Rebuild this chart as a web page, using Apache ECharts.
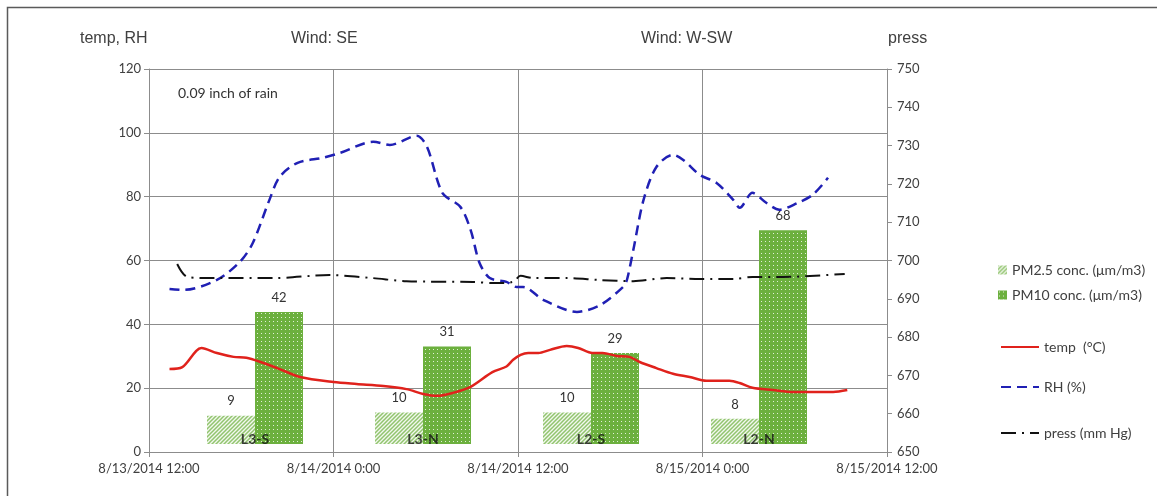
<!DOCTYPE html>
<html>
<head>
<meta charset="utf-8">
<script src="https://cdn.jsdelivr.net/npm/echarts@6/dist/echarts.min.js"></script>
<style>
  html, body { margin: 0; padding: 0; background: #fff; }
  #chart { width: 1157px; height: 496px; }
</style>
</head>
<body>
<div id="chart"></div>
<script>
// sampling sites and particulate matter concentrations
const siteNames = ['L3-S', 'L3-N', 'L2-S', 'L2-N'];
const pm25 = [9, 10, 10, 8];
const pm10 = [42, 31, 29, 68];

// x ticks every 12 h, from 8/13/2014 12:00
const xStart = '2014-08-13T12:00';
const xTicksHours = [0, 12, 24, 36, 48];

// temperature (°C)
const temp = [
  ['2014-08-13T13:20', 26.0], ['2014-08-13T14:10', 26.6], ['2014-08-13T15:25', 32.6],
  ['2014-08-13T16:25', 31.0], ['2014-08-13T17:30', 29.8], ['2014-08-13T18:20', 29.5],
  ['2014-08-13T19:15', 28.2], ['2014-08-13T20:20', 26.3], ['2014-08-13T21:50', 23.5],
  ['2014-08-14T00:00', 21.9], ['2014-08-14T01:30', 21.3], ['2014-08-14T03:15', 20.7],
  ['2014-08-14T04:45', 19.7], ['2014-08-14T05:50', 18.2], ['2014-08-14T06:45', 17.6],
  ['2014-08-14T07:45', 18.5], ['2014-08-14T08:55', 20.4], ['2014-08-14T10:20', 25.0],
  ['2014-08-14T11:15', 26.8], ['2014-08-14T11:40', 28.8], ['2014-08-14T12:10', 30.4],
  ['2014-08-14T12:40', 31.0], ['2014-08-14T13:20', 31.0], ['2014-08-14T14:05', 32.0],
  ['2014-08-14T15:10', 33.2], ['2014-08-14T15:55', 32.6], ['2014-08-14T16:50', 31.0],
  ['2014-08-14T17:30', 31.0], ['2014-08-14T18:25', 30.1], ['2014-08-14T19:15', 29.8],
  ['2014-08-14T19:55', 28.2], ['2014-08-14T21:00', 26.3], ['2014-08-14T22:05', 24.5],
  ['2014-08-14T23:10', 23.5], ['2014-08-15T00:15', 22.3], ['2014-08-15T01:45', 22.3],
  ['2014-08-15T02:25', 21.6], ['2014-08-15T03:15', 20.1], ['2014-08-15T04:35', 19.4],
  ['2014-08-15T05:55', 18.8], ['2014-08-15T07:10', 18.8], ['2014-08-15T08:30', 18.8],
  ['2014-08-15T09:25', 19.4]
];

// relative humidity (%)
const rh = [
  ['2014-08-13T13:20', 51.1], ['2014-08-13T14:15', 50.8], ['2014-08-13T16:25', 53.9],
  ['2014-08-13T17:55', 59.6], ['2014-08-13T18:45', 65.5], ['2014-08-13T19:50', 79.0],
  ['2014-08-13T20:30', 86.2], ['2014-08-13T21:40', 90.6], ['2014-08-13T23:20', 92.2],
  ['2014-08-14T00:25', 93.7], ['2014-08-14T02:35', 97.2], ['2014-08-14T03:40', 96.2],
  ['2014-08-14T05:25', 99.1], ['2014-08-14T06:05', 95.6], ['2014-08-14T07:05', 81.2],
  ['2014-08-14T08:15', 76.8], ['2014-08-14T08:55', 69.6], ['2014-08-14T09:30', 59.2],
  ['2014-08-14T10:10', 54.5], ['2014-08-14T11:15', 53.3], ['2014-08-14T11:55', 51.7],
  ['2014-08-14T12:20', 51.7], ['2014-08-14T13:40', 47.6], ['2014-08-14T15:50', 43.9],
  ['2014-08-14T17:20', 46.0], ['2014-08-14T18:50', 51.7], ['2014-08-14T19:05', 53.9],
  ['2014-08-14T19:30', 63.3], ['2014-08-14T20:10', 79.0], ['2014-08-14T21:00', 89.3],
  ['2014-08-14T22:05', 93.1], ['2014-08-14T22:45', 91.5], ['2014-08-14T23:50', 86.8],
  ['2014-08-15T00:55', 84.3], ['2014-08-15T02:00', 79.0], ['2014-08-15T02:25', 76.5],
  ['2014-08-15T03:15', 81.2], ['2014-08-15T04:10', 78.0], ['2014-08-15T05:00', 75.9],
  ['2014-08-15T06:10', 78.0], ['2014-08-15T07:10', 80.6], ['2014-08-15T08:10', 85.9]
];

// pressure (mm Hg)
const press = [
  ['2014-08-13T13:50', 699.1], ['2014-08-13T14:30', 695.7], ['2014-08-13T16:10', 695.4],
  ['2014-08-13T20:05', 695.4], ['2014-08-13T23:45', 696.2], ['2014-08-14T02:35', 695.4],
  ['2014-08-14T04:45', 694.6], ['2014-08-14T09:05', 694.4], ['2014-08-14T10:25', 694.1],
  ['2014-08-14T11:40', 694.4], ['2014-08-14T12:10', 696.0], ['2014-08-14T13:00', 695.4],
  ['2014-08-14T15:10', 695.4], ['2014-08-14T17:20', 694.9], ['2014-08-14T19:30', 694.6],
  ['2014-08-14T21:40', 695.4], ['2014-08-14T23:50', 695.2], ['2014-08-15T02:00', 695.2],
  ['2014-08-15T03:15', 695.7], ['2014-08-15T05:15', 695.7], ['2014-08-15T09:15', 696.5]
];

const t0 = Date.parse(xStart);
function hrs(s) { return (Date.parse(s) - t0) / 3600000; }
function toXY(arr) { return arr.map(d => [hrs(d[0]), d[1]]); }
function fmtDate(h) {
  let d = new Date(t0 + h * 3600000);
  let mm = d.getMinutes() < 10 ? '0' + d.getMinutes() : d.getMinutes();
  return (d.getMonth() + 1) + '/' + d.getDate() + '/' + d.getFullYear() + ' ' + d.getHours() + ':' + mm;
}

// fill patterns for the bars
function dotPattern() {
  let c = document.createElement('canvas');
  c.width = 4; c.height = 4;
  let g = c.getContext('2d');
  g.fillStyle = '#6cb03e';
  g.fillRect(0, 0, 4, 4);
  g.fillStyle = 'rgba(255,255,255,0.8)';
  g.fillRect(1, 1, 1, 1);
  return c;
}
function hatchPattern() {
  let c = document.createElement('canvas');
  c.width = 4; c.height = 4;
  let g = c.getContext('2d');
  g.fillStyle = '#f2f8ee';
  g.fillRect(0, 0, 4, 4);
  g.strokeStyle = '#92c46f';
  g.lineWidth = 1.5;
  g.beginPath();
  g.moveTo(0, 4); g.lineTo(4, 0);
  g.moveTo(-1, 1); g.lineTo(1, -1);
  g.moveTo(3, 5); g.lineTo(5, 3);
  g.stroke();
  return c;
}

const font = 'Lato, "Noto Sans", sans-serif';
const arial = '"Liberation Sans", Arial, sans-serif';
const gridColor = '#8c8c8c';
const labelColor = '#404040';

function lineLegend(name, top) {
  return {
    data: [name], left: 995, top: top,
    itemWidth: 38, itemHeight: 14,
    itemStyle: { opacity: 0 },
    textStyle: { fontFamily: font, fontSize: 14, color: labelColor }
  };
}

function initChart() {
  let myChart = echarts.init(document.getElementById('chart'));

  let option = {
    animation: false,
    backgroundColor: '#fff',
    grid: [
      { left: 149, right: 270, top: 69, bottom: 44 },
      { left: 171, right: 314, top: 67, bottom: 52 }
    ],
    legend: [
      {
        data: ['PM2.5 conc. (μm/m3)', 'PM10 conc. (μm/m3)'],
        orient: 'vertical', left: 993, top: 258,
        icon: 'rect', itemWidth: 9, itemHeight: 9, itemGap: 11,
        textStyle: { fontFamily: font, fontSize: 14, color: labelColor }
      },
      lineLegend('temp  (°C)', 335),
      lineLegend('RH (%)', 375),
      lineLegend('press (mm Hg)', 421)
    ],
    xAxis: [
      {
        type: 'value', gridIndex: 0,
        min: xTicksHours[0], max: xTicksHours[xTicksHours.length - 1], interval: 12,
        axisLine: { lineStyle: { color: gridColor } },
        axisTick: { show: true, length: 5, lineStyle: { color: gridColor } },
        splitLine: { show: true, lineStyle: { color: gridColor } },
        axisLabel: {
          fontFamily: font, fontSize: 13, color: labelColor, margin: 10,
          showMinLabel: true, showMaxLabel: true,
          formatter: v => fmtDate(v)
        }
      },
      {
        type: 'category', gridIndex: 1, data: siteNames, show: false
      }
    ],
    yAxis: [
      {
        type: 'value', gridIndex: 0, min: 0, max: 120, interval: 20,
        axisLine: { show: true, lineStyle: { color: gridColor } },
        axisTick: { show: true, length: 5, lineStyle: { color: gridColor } },
        splitLine: { show: true, lineStyle: { color: gridColor } },
        axisLabel: { fontFamily: font, fontSize: 13, color: labelColor, margin: 8 }
      },
      {
        type: 'value', gridIndex: 0, position: 'right', min: 650, max: 750, interval: 10,
        axisLine: { show: true, lineStyle: { color: gridColor } },
        axisTick: { show: true, length: 5, lineStyle: { color: gridColor } },
        splitLine: { show: false },
        axisLabel: { fontFamily: font, fontSize: 13, color: labelColor, margin: 10 }
      },
      {
        type: 'value', gridIndex: 1, min: 0, max: 120, show: false,
        splitLine: { show: false }
      }
    ],
    graphic: [
      {
        type: 'rect', silent: true,
        shape: { x: 7.5, y: 7.5, width: 1170, height: 510 },
        style: { fill: 'none', stroke: '#5a5a5a', lineWidth: 1.5 }
      },
      { type: 'text', left: 80, top: 31, style: { text: 'temp, RH', font: '16px ' + arial, fill: labelColor } },
      { type: 'text', left: 291, top: 31, style: { text: 'Wind: SE', font: '16px ' + arial, fill: labelColor } },
      { type: 'text', left: 641, top: 31, style: { text: 'Wind: W-SW', font: '16px ' + arial, fill: labelColor } },
      { type: 'text', left: 888, top: 31, style: { text: 'press', font: '16px ' + arial, fill: labelColor } },
      { type: 'text', left: 178, top: 86, style: { text: '0.09 inch of rain', font: '14px ' + font, fill: '#333' } }
    ],
    series: [
      {
        name: 'PM2.5 conc. (μm/m3)', type: 'bar',
        xAxisIndex: 1, yAxisIndex: 2, z: 1,
        barWidth: 48, barGap: '0%',
        itemStyle: { color: { image: hatchPattern(), repeat: 'repeat' } },
        label: { show: true, position: 'top', distance: 8, fontFamily: font, fontSize: 13, color: '#333' },
        data: pm25
      },
      {
        name: 'PM10 conc. (μm/m3)', type: 'bar',
        xAxisIndex: 1, yAxisIndex: 2, z: 1,
        barWidth: 48, barGap: '0%',
        itemStyle: { color: { image: dotPattern(), repeat: 'repeat' } },
        label: { show: true, position: 'top', distance: 8, fontFamily: font, fontSize: 13, color: '#333' },
        data: pm10
      },
      {
        name: 'site', type: 'scatter',
        xAxisIndex: 1, yAxisIndex: 2, z: 4,
        symbolSize: 0, silent: true,
        label: {
          show: true, position: 'inside', offset: [0, -5],
          formatter: p => siteNames[p.dataIndex],
          fontFamily: font, fontSize: 14, fontWeight: 'bold', color: '#151515'
        },
        data: siteNames.map(() => 0)
      },
      {
        name: 'temp  (°C)', type: 'line', z: 3,
        xAxisIndex: 0, yAxisIndex: 0,
        symbol: 'none', smooth: 0.3,
        lineStyle: { color: '#e0221c', width: 2.5 },
        itemStyle: { color: '#e0221c' },
        data: toXY(temp)
      },
      {
        name: 'RH (%)', type: 'line', z: 3,
        xAxisIndex: 0, yAxisIndex: 0,
        symbol: 'none', smooth: 0.3,
        lineStyle: { color: '#2020b4', width: 2.5, type: [10, 6] },
        itemStyle: { color: '#2020b4' },
        data: toXY(rh)
      },
      {
        name: 'press (mm Hg)', type: 'line', z: 3,
        xAxisIndex: 0, yAxisIndex: 1,
        symbol: 'none', smooth: 0.3,
        lineStyle: { color: '#111', width: 2, type: [15, 6, 2, 6] },
        itemStyle: { color: '#111' },
        data: toXY(press)
      }
    ]
  };

  myChart.setOption(option);
  return myChart;
}

initChart();
</script>
</body>
</html>
